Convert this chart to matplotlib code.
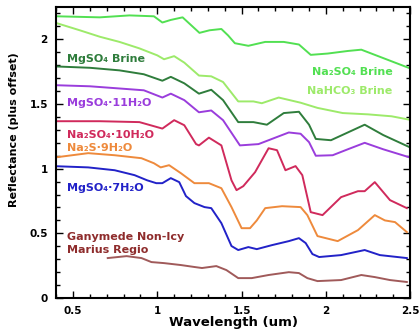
import numpy as np
import matplotlib.pyplot as plt
from matplotlib.ticker import MultipleLocator, FuncFormatter

plt.rcParams['font.family'] = ['DejaVu Sans']
plt.rcParams['font.weight'] = 'bold'

# spectra (wavelength um, reflectance + offset)
na2so4_brine_x = [0.406, 0.659, 0.835, 0.98, 1.03, 1.08, 1.15, 1.2, 1.25, 1.31, 1.38, 1.42, 1.46, 1.54,
                  1.64, 1.75, 1.84, 1.91, 2.01, 2.13, 2.21, 2.31, 2.41, 2.49]
na2so4_brine_y = [2.178, 2.17, 2.185, 2.178, 2.13, 2.15, 2.17, 2.11, 2.05, 2.07, 2.08, 2.03, 1.97, 1.95,
                  1.98, 1.98, 1.96, 1.88, 1.89, 1.91, 1.92, 1.87, 1.82, 1.78]

nahco3_x = [0.406, 0.54, 0.659, 0.776, 0.894, 1.0, 1.04, 1.1, 1.16, 1.247, 1.32, 1.39, 1.48, 1.57,
            1.62, 1.72, 1.85, 1.95, 2.1, 2.25, 2.39, 2.49]
nahco3_y = [2.124, 2.07, 2.02, 1.98, 1.93, 1.876, 1.846, 1.87, 1.82, 1.72, 1.714, 1.67, 1.52, 1.52,
            1.506, 1.55, 1.51, 1.47, 1.43, 1.42, 1.405, 1.38]

mgso4_brine_x = [0.406, 0.6, 0.776, 0.92, 1.03, 1.08, 1.16, 1.247, 1.32, 1.39, 1.48, 1.57, 1.65, 1.75,
                 1.84, 1.9, 1.94, 2.03, 2.13, 2.23, 2.34, 2.49]
mgso4_brine_y = [1.79, 1.78, 1.76, 1.73, 1.68, 1.71, 1.66, 1.58, 1.61, 1.53, 1.36, 1.36, 1.34, 1.43,
                 1.44, 1.34, 1.23, 1.22, 1.28, 1.34, 1.26, 1.17]

mgso4_11_x = [0.406, 0.6, 0.776, 0.92, 1.03, 1.08, 1.16, 1.247, 1.32, 1.39, 1.49, 1.6, 1.69, 1.78,
              1.85, 1.9, 1.94, 2.04, 2.13, 2.23, 2.34, 2.49]
mgso4_11_y = [1.645, 1.637, 1.62, 1.606, 1.55, 1.58, 1.53, 1.436, 1.45, 1.375, 1.18, 1.19, 1.235, 1.28,
              1.27, 1.205, 1.1, 1.104, 1.15, 1.2, 1.15, 1.09]

na2so4_10_x = [0.406, 0.659, 0.894, 1.03, 1.1, 1.16, 1.23, 1.247, 1.306, 1.38, 1.44, 1.47, 1.51, 1.58,
               1.66, 1.71, 1.76, 1.82, 1.86, 1.91, 1.98, 2.09, 2.19, 2.23, 2.29, 2.38, 2.48]
na2so4_10_y = [1.367, 1.367, 1.36, 1.31, 1.375, 1.336, 1.19, 1.18, 1.24, 1.18, 0.91, 0.834, 0.865, 0.973,
               1.158, 1.143, 0.988, 1.02, 0.95, 0.664, 0.641, 0.78, 0.826, 0.826, 0.896, 0.757, 0.695]

na2s_x = [0.406, 0.59, 0.747, 0.906, 0.98, 1.02, 1.07, 1.14, 1.22, 1.306, 1.38, 1.44, 1.5, 1.55,
          1.59, 1.64, 1.74, 1.85, 1.89, 1.95, 2.07, 2.19, 2.29, 2.35, 2.41, 2.48]
na2s_y = [1.089, 1.12, 1.104, 1.081, 1.042, 1.01, 1.027, 0.965, 0.888, 0.888, 0.849, 0.703, 0.54, 0.54,
          0.60, 0.695, 0.71, 0.703, 0.641, 0.479, 0.44, 0.525, 0.641, 0.60, 0.587, 0.51]

mgso4_7_x = [0.4, 0.59, 0.747, 0.865, 0.94, 0.994, 1.03, 1.08, 1.13, 1.17, 1.22, 1.28, 1.32, 1.38,
             1.44, 1.48, 1.54, 1.59, 1.68, 1.78, 1.84, 1.88, 1.92, 1.96, 2.09, 2.23, 2.32, 2.48]
mgso4_7_y = [1.019, 1.01, 0.988, 0.95, 0.91, 0.888, 0.888, 0.927, 0.896, 0.788, 0.734, 0.703, 0.695, 0.579,
             0.402, 0.371, 0.394, 0.378, 0.409, 0.44, 0.463, 0.425, 0.34, 0.317, 0.332, 0.371, 0.332, 0.309]

ganymede_x = [0.706, 0.818, 0.906, 0.965, 1.04, 1.14, 1.22, 1.265, 1.35, 1.41, 1.48, 1.56, 1.66, 1.78,
              1.84, 1.89, 1.95, 2.09, 2.21, 2.29, 2.38, 2.48]
ganymede_y = [0.309, 0.324, 0.309, 0.278, 0.27, 0.255, 0.24, 0.232, 0.247, 0.216, 0.154, 0.154, 0.178, 0.2,
              0.193, 0.154, 0.131, 0.139, 0.178, 0.162, 0.139, 0.124]

fig = plt.figure(figsize=(4.19, 3.33), dpi=100)
ax = fig.add_axes([0.134, 0.105, 0.845, 0.874])

ax.plot(na2so4_brine_x, na2so4_brine_y, color='#52e052', lw=1.4)
ax.plot(nahco3_x, nahco3_y, color='#9dea6a', lw=1.4)
ax.plot(mgso4_brine_x, mgso4_brine_y, color='#2f7d3c', lw=1.4)
ax.plot(mgso4_11_x, mgso4_11_y, color='#9a3ddc', lw=1.4)
ax.plot(na2so4_10_x, na2so4_10_y, color='#d02a5c', lw=1.4)
ax.plot(na2s_x, na2s_y, color='#ee8a3c', lw=1.4)
ax.plot(mgso4_7_x, mgso4_7_y, color='#2222c8', lw=1.4)
ax.plot(ganymede_x, ganymede_y, color='#a05a5a', lw=1.4)

fs = 8
ax.text(0.465, 1.845, 'MgSO₄ Brine', color='#2f7d3c', fontsize=fs, va='center')
ax.text(0.465, 1.506, 'MgSO₄·11H₂O', color='#9a3ddc', fontsize=fs, va='center')
ax.text(0.465, 1.262, 'Na₂SO₄·10H₂O', color='#d02a5c', fontsize=fs, va='center')
ax.text(0.465, 1.162, 'Na₂S·9H₂O', color='#ee8a3c', fontsize=fs, va='center')
ax.text(0.465, 0.85, 'MgSO₄·7H₂O', color='#2222c8', fontsize=fs, va='center')
ax.text(0.465, 0.47, 'Ganymede Non-Icy', color='#8e2c2c', fontsize=fs, va='center')
ax.text(0.465, 0.375, 'Marius Regio', color='#8e2c2c', fontsize=fs, va='center')
ax.text(2.394, 1.745, 'Na₂SO₄ Brine', color='#52e052', fontsize=fs, va='center', ha='right')
ax.text(2.394, 1.6, 'NaHCO₃ Brine', color='#9dea6a', fontsize=fs, va='center', ha='right')

ax.set_xlim(0.4, 2.5)
ax.set_ylim(0, 2.25)
ax.xaxis.set_major_locator(MultipleLocator(0.5))
ax.xaxis.set_minor_locator(MultipleLocator(0.1))
ax.yaxis.set_major_locator(MultipleLocator(0.5))
ax.yaxis.set_minor_locator(MultipleLocator(0.1))
fmt = FuncFormatter(lambda v, p: '%g' % v)
ax.xaxis.set_major_formatter(fmt)
ax.yaxis.set_major_formatter(fmt)
ax.tick_params(which='both', direction='in', top=True, right=True, labelsize=7.5, width=1)
ax.tick_params(which='major', length=5, pad=6)
ax.tick_params(which='minor', length=3)
for s in ax.spines.values():
    s.set_linewidth(1.5)

ax.set_xlabel('Wavelength (um)', fontsize=9.5, fontweight='bold', labelpad=0)
ax.set_ylabel('Reflectance (plus offset)', fontsize=8, fontweight='bold')
ax.yaxis.set_label_coords(-0.105, 0.58)

fig.savefig('out.png', dpi=100)
